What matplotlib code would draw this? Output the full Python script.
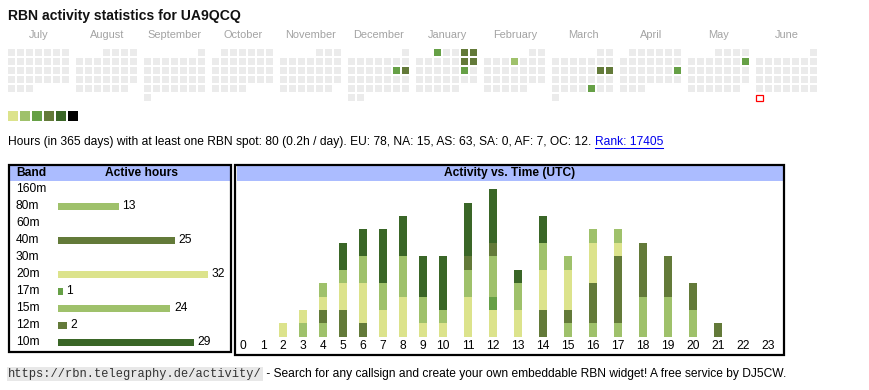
import datetime as dt
import matplotlib
matplotlib.use("Agg")
import matplotlib.pyplot as plt
from matplotlib.patches import Rectangle

plt.rcParams['font.family'] = ['Liberation Sans', 'DejaVu Sans']

# ---------------- data ----------------
callsign = "UA9QCQ"
palette = ['#dce38c', '#9fc16b', '#66a046', '#637a39', '#3a6627', '#000000']
cell_gray = '#ebebeb'

month_names = ['July', 'August', 'September', 'October', 'November', 'December',
               'January', 'February', 'March', 'April', 'May', 'June']
month_keys = [(2024, 7), (2024, 8), (2024, 9), (2024, 10), (2024, 11), (2024, 12),
              (2025, 1), (2025, 2), (2025, 3), (2025, 4), (2025, 5), (2025, 6)]
today = dt.date(2025, 6, 30)
active_dates = ['2024-12-14', '2024-12-15', '2025-01-01', '2025-01-04', '2025-01-05',
                '2025-01-11', '2025-01-12', '2025-01-18', '2025-02-06', '2025-03-15',
                '2025-03-16', '2025-03-28', '2025-04-20', '2025-05-11']
active_levels = [3, 4, 3, 4, 4, 4, 4, 3, 2, 4, 4, 3, 3, 3]

bands = ['160m', '80m', '60m', '40m', '30m', '20m', '17m', '15m', '12m', '10m']
band_hours = [0, 13, 0, 25, 0, 32, 1, 24, 2, 29]
band_colors = ['#dce38c', '#9fc16b', '#66a046', '#637a39', '#3a6627',
               '#dce38c', '#66a046', '#9fc16b', '#637a39', '#3a6627']

hours = list(range(24))
act_160m = [0] * 24
act_80m = [0, 0, 0, 1, 1, 0, 0, 0, 0, 0, 0, 0, 0, 0, 0, 1, 1, 1, 3, 3, 2, 0, 0, 0]
act_60m = [0] * 24
act_40m = [0, 0, 0, 0, 1, 2, 1, 0, 0, 0, 0, 0, 0, 0, 2, 1, 3, 5, 4, 3, 2, 1, 0, 0]
act_30m = [0] * 24
act_20m = [0, 0, 1, 1, 1, 2, 3, 2, 3, 1, 1, 3, 2, 2, 3, 3, 3, 1, 0, 0, 0, 0, 0, 0]
act_17m = [0, 0, 0, 0, 0, 0, 0, 0, 0, 0, 0, 0, 1, 0, 0, 0, 0, 0, 0, 0, 0, 0, 0, 0]
act_15m = [0, 0, 0, 0, 1, 1, 2, 2, 3, 2, 1, 2, 3, 2, 2, 1, 1, 1, 0, 0, 0, 0, 0, 0]
act_12m = [0, 0, 0, 0, 0, 0, 0, 0, 0, 0, 0, 1, 1, 0, 0, 0, 0, 0, 0, 0, 0, 0, 0, 0]
act_10m = [0, 0, 0, 0, 0, 2, 2, 4, 3, 3, 4, 4, 4, 1, 2, 0, 0, 0, 0, 0, 0, 0, 0, 0]
activity = [act_160m, act_80m, act_60m, act_40m, act_30m,
            act_20m, act_17m, act_15m, act_12m, act_10m]

summary = ("Hours (in 365 days) with at least one RBN spot: 80 (0.2h / day). "
           "EU: 78, NA: 15, AS: 63, SA: 0, AF: 7, OC: 12. ")
rank_text = "Rank: 17405"
footer_url = "https://rbn.telegraphy.de/activity/"
footer_text = " - Search for any callsign and create your own embeddable RBN widget! A free service by DJ5CW."

# ---------------- layout ----------------
W, H = 870, 390
fig = plt.figure(figsize=(W / 100, H / 100), dpi=100)
ax0 = fig.add_axes([0, 0, 1, 1])
ax0.set_xlim(0, W)
ax0.set_ylim(H, 0)
ax0.axis('off')


def px_axes(x0, y0, x1, y1):
    a = fig.add_axes([x0 / W, 1 - y1 / H, (x1 - x0) / W, (y1 - y0) / H])
    a.axis('off')
    return a


def pt(px):
    return px * 0.72


def to_data_x(disp_x):
    return ax0.transData.inverted().transform((disp_x, 0))[0]


body = pt(12)

# title
ax0.text(8, 16, f"RBN activity statistics for {callsign}", fontsize=pt(14),
         fontweight='bold', va='center', ha='left', color='#111111')

# calendar
mx0, mpitch, cy0, cpitch, csize = 8, 68, 49, 9, 6.7
act_map = {dt.date.fromisoformat(d): l for d, l in zip(active_dates, active_levels)}
for k, ((yy, mm), name) in enumerate(zip(month_keys, month_names)):
    x0 = mx0 + mpitch * k
    ax0.text(x0 + 31, 35, name, fontsize=pt(11), color='#a3a3a3',
             ha='center', va='center')
    d = dt.date(yy, mm, 1)
    first_wd = d.weekday()
    while d.month == mm:
        col = d.weekday()
        row = (d.day - 1 + first_wd) // 7
        x = x0 + col * cpitch
        y = cy0 + row * cpitch
        if d == today:
            ax0.add_patch(Rectangle((x + 0.5, y + 0.5), csize, csize, facecolor='white',
                                    edgecolor='#ff0000', lw=0.9))
        else:
            c = palette[act_map[d] - 1] if d in act_map else cell_gray
            ax0.add_patch(Rectangle((x, y), csize, csize, facecolor=c, edgecolor='none'))
        d += dt.timedelta(days=1)

# legend squares
for i, c in enumerate(palette):
    ax0.add_patch(Rectangle((8 + 12 * i, 111), 10, 10, facecolor=c, edgecolor='none'))

# summary line
t1 = ax0.text(8, 142, summary, fontsize=body, va='center', ha='left', color='#000000')
fig.canvas.draw()
rx = to_data_x(t1.get_window_extent().x1)
t2 = ax0.text(rx, 142, rank_text, fontsize=body, va='center', ha='left',
              color='#0000ee')
fig.canvas.draw()
bb2 = t2.get_window_extent()
ax0.plot([to_data_x(bb2.x0), to_data_x(bb2.x1)], [148.2, 148.2], color='#0000ee', lw=0.75)

# band table box
blue = '#abbcff'
ax0.add_patch(Rectangle((10, 165), 220, 16, facecolor=blue, edgecolor='none'))
ax0.add_patch(Rectangle((9, 164.5), 222, 187, facecolor='none', edgecolor='black', lw=1.6))
ax0.text(16, 173, "Band", fontsize=body, fontweight='bold', va='center', ha='left')
ax0.text(142, 173, "Active hours", fontsize=body, fontweight='bold', va='center',
         ha='center')

row0, rpitch = 189.3, 17
for i, b in enumerate(bands):
    ax0.text(16, row0 + i * rpitch, b, fontsize=body, va='center', ha='left')

pxh = 4.6875
axb = px_axes(58, row0 - rpitch / 2, 230, row0 + 9.5 * rpitch)
axb.set_xlim(0, 172 / pxh)
axb.set_ylim(len(bands) - 0.5, -0.5)
for i, (v, c) in enumerate(zip(band_hours, band_colors)):
    if v > 0:
        axb.barh(i, v, height=7 / rpitch, color=c, align='center')
        axb.text(v + 3.5 / pxh, i, str(v), fontsize=body, va='center', ha='left',
                 clip_on=False)

# activity box
ax0.add_patch(Rectangle((237, 165), 546, 16, facecolor=blue, edgecolor='none'))
ax0.add_patch(Rectangle((235.5, 164.5), 548.5, 190, facecolor='none', edgecolor='black',
                        lw=1.6))
ax0.text(509.5, 173, "Activity vs. Time (UTC)", fontsize=body, fontweight='bold',
         va='center', ha='center')


def hour_x(h):
    return 243 + 20 * min(h, 10) + 25 * max(h - 10, 0)


hx = [hour_x(h) for h in hours]
unit = 13.4
base = 336.7
axa = px_axes(233, 181, 785, base)
axa.set_xlim(233, 785)
axa.set_ylim(0, (base - 181) / unit)
bottom = [0] * 24
for series, c in zip(activity, band_colors):
    if any(series):
        axa.bar(hx, series, bottom=bottom, width=8, color=c, align='center')
        bottom = [b + s for b, s in zip(bottom, series)]

for h, x in zip(hours, hx):
    ax0.text(x, 346, str(h), fontsize=body, va='center', ha='center')

# footer
tu = ax0.text(8, 374, footer_url, fontsize=pt(12),
              family=['Liberation Mono', 'DejaVu Sans Mono'],
              va='center', ha='left', color='#333333',
              bbox=dict(facecolor='#e8e8e8', edgecolor='none', pad=1.0))
fig.canvas.draw()
ux = to_data_x(tu.get_window_extent().x1)
ax0.text(ux + 1.5, 374, footer_text, fontsize=body, va='center', ha='left')

fig.savefig('out.png', dpi=100)
